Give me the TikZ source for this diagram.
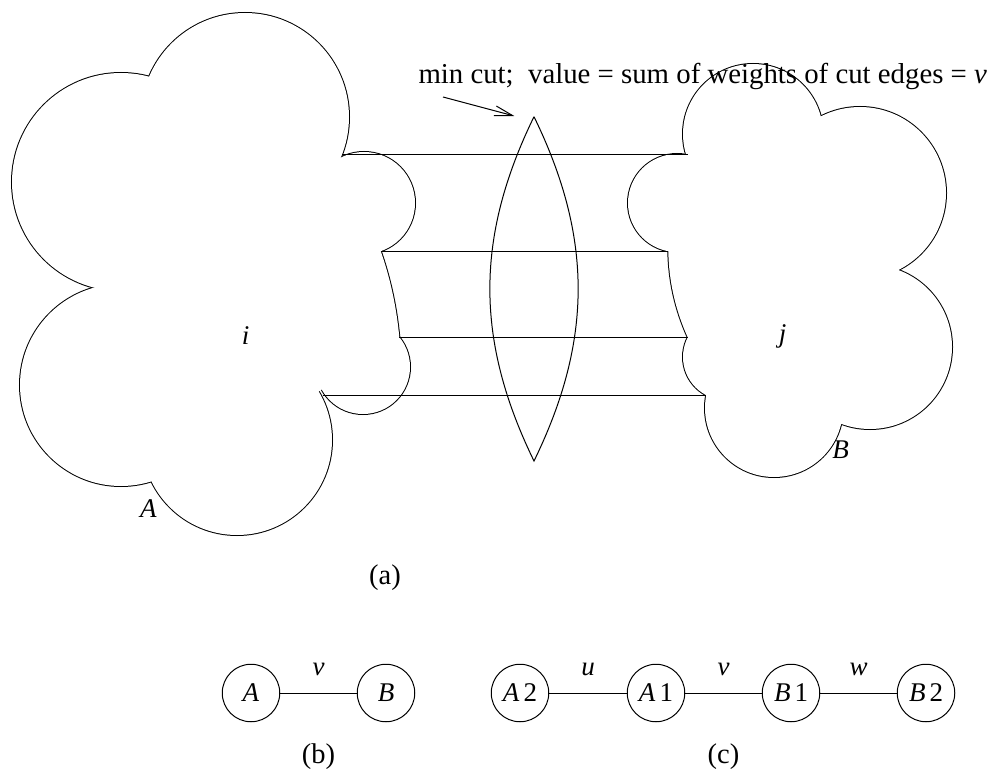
\documentclass[tikz,border=0pt]{standalone}
\usepackage{fontspec}
\setmainfont{Liberation Serif}
\usetikzlibrary{arrows.meta}
\begin{document}
\begin{tikzpicture}[x=1pt,y=-1pt,line width=1pt,
  outl/.style={line width=2pt,draw=black},
  lbl/.style={font=\fontsize{27}{30}\selectfont\itshape,inner sep=0pt},
  capt/.style={font=\fontsize{28.5}{30}\selectfont,inner sep=0pt},
  gnode/.style={circle,draw,line width=1pt,minimum size=57.5pt,inner sep=0pt,font=\fontsize{27}{28}\selectfont},
  cutedge/.style={line width=1pt},
  ]
\useasboundingbox (0,0) rectangle (995,770);
% ---- cusp coordinates
\coordinate (C2) at (342.3,155);
\coordinate (C3) at (380.7,251);
\coordinate (C4) at (399.3,337.3);
\coordinate (C5) at (322.7,395);
\coordinate (D1) at (687.7,155);
\coordinate (D4) at (668.3,251);
\coordinate (D5) at (687.7,337.3);
\coordinate (D6) at (706,395);
% ---- layer 1: thick outlines (outer half stays visible)
\draw[outl] (121,182) circle[radius=109pt];
\draw[outl] (245,117) circle[radius=104pt];
\draw[outl] (364,203) circle[radius=51pt];
\draw[outl] (363,367) circle[radius=47pt];
\draw[outl] (237,440) circle[radius=95pt];
\draw[outl] (121,385) circle[radius=101pt];
\draw[outl] (C3) .. controls (390.5,279) and (396.6,308) .. (C4);
\draw[outl] (753,134) circle[radius=70pt];
\draw[outl] (860,193) circle[radius=86pt];
\draw[outl] (870,347) circle[radius=82pt];
\draw[outl] (774,408) circle[radius=69pt];
\draw[outl] (726,357) circle[radius=43pt];
\draw[outl] (677,203) circle[radius=49pt];
\draw[outl] (D5) .. controls (675.2,309.5) and (668.8,281) .. (D4);
% ---- layer 2: white fills
\fill[white] (121,182) circle[radius=109pt];
\fill[white] (245,117) circle[radius=104pt];
\fill[white] (364,203) circle[radius=51pt];
\fill[white] (363,367) circle[radius=47pt];
\fill[white] (237,440) circle[radius=95pt];
\fill[white] (121,385) circle[radius=101pt];
\fill[white] (152,84) -- (338,158) -- (C3) .. controls (390.5,279) and (396.6,308) .. (C4) -- (318,392) -- (152,474) -- (102,287) -- cycle;
\fill[white] (753,134) circle[radius=70pt];
\fill[white] (860,193) circle[radius=86pt];
\fill[white] (870,347) circle[radius=82pt];
\fill[white] (774,408) circle[radius=69pt];
\fill[white] (726,357) circle[radius=43pt];
\fill[white] (677,203) circle[radius=49pt];
\fill[white] (692,160) -- (822,124) -- (893,270) -- (838,418) -- (712,392) -- (D5) .. controls (675.2,309.5) and (668.8,281) .. (D4) -- cycle;
% ---- cut edges
\draw[cutedge] (C2) -- (D1);
\draw[cutedge] (C3) -- (D4);
\draw[cutedge] (C4) -- (D5);
\draw[cutedge] (C5) -- (D6);
% ---- lens (min cut)
\coordinate (lt) at (534,116.7);
\coordinate (lb) at (534,461);
\draw (lt) to[bend left=26] (lb) to[bend left=26] (lt);
% ---- labels
\node[lbl] (li) at (245.7,336) {i};
\node[lbl] (lj) at (782.7,336) {j};
\node[lbl] (lA) at (148.3,508.3) {A};
\node[lbl] (lB) at (840.7,450) {B};
\node[capt,anchor=base west,font=\fontsize{28.8}{31}\selectfont] (title) at (418,84) {min cut;\ \ value = sum of weights of cut edges = \textit{v}};
\coordinate (arrS) at (443,97);
\coordinate (arrE) at (514.3,116);
\draw[-{Straight Barb[length=18pt,width=10pt]}] (arrS) -- (arrE);
\node[capt] (la) at (385,578) {(a)};
% ---- bottom graphs
\node[gnode] (nA) at (251,693) {\textit{A}};
\node[gnode] (nB) at (386,693) {\textit{B}};
\node[gnode] (nA2) at (520,693) {\textit{A}\hspace{4pt}2};
\node[gnode] (nA1) at (656,693) {\textit{A}\hspace{4pt}1};
\node[gnode] (nB1) at (791,693) {\textit{B}\hspace{4pt}1};
\node[gnode] (nB2) at (926,693) {\textit{B}\hspace{4pt}2};
\draw (nA) -- (nB) node[midway,lbl,yshift=24pt] (lv1) {v};
\draw (nA2) -- (nA1) node[midway,lbl,yshift=24pt] (lu) {u};
\draw (nA1) -- (nB1) node[midway,lbl,yshift=24pt] (lv2) {v};
\draw (nB1) -- (nB2) node[midway,lbl,yshift=24pt] (lw) {w};
\node[capt] (lb2) at (318.5,757) {(b)};
\node[capt] (lc) at (723.5,757) {(c)};
\end{tikzpicture}
\end{document}
